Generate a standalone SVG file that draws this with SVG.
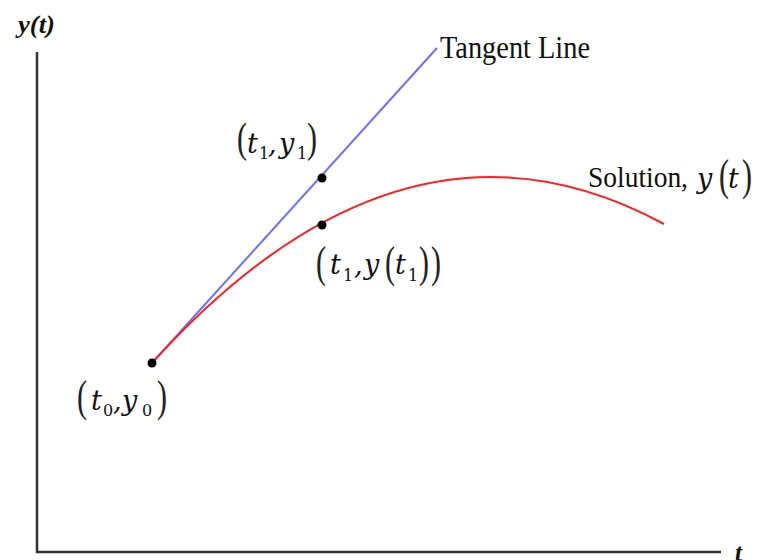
<svg xmlns="http://www.w3.org/2000/svg" width="767" height="560" viewBox="0 0 767 560">
<style>
.ax{stroke:#333;stroke-width:2.5;fill:none}
.lbl{font-family:"Liberation Serif","Times New Roman",serif;fill:#111}
.m{font-family:"DejaVu Serif","Liberation Serif",serif;font-style:italic;font-size:27px;fill:#111}
.s{font-family:"DejaVu Serif","Liberation Serif",serif;font-size:16px;fill:#111}
.p{font-family:"Liberation Serif","Times New Roman",serif;font-size:30px;fill:#222}
.bi{font-family:"Liberation Serif","Times New Roman",serif;font-style:italic;font-weight:bold;font-size:25px;fill:#111}
.dot{fill:#000}
</style>
<rect width="767" height="560" fill="#fff"/>
<g id="axes">
<path class="ax" d="M37,52 V552 H721"/>
<text class="bi" x="18" y="33" textLength="37" lengthAdjust="spacingAndGlyphs">y(t)</text>
<text class="bi" x="735" y="561">t</text>
</g>
<g id="connectors">
<line x1="152" y1="363" x2="437" y2="48" stroke="#7070ff" stroke-width="2"/>
<path d="M152,363 Q405,83.5 664,224" stroke="#ff2020" stroke-width="2" fill="none"/>
</g>
<g id="tangent-label">
<text class="lbl" x="440" y="58" font-size="31" textLength="150" lengthAdjust="spacingAndGlyphs">Tangent Line</text>
</g>
<g id="solution-label">
<text class="lbl" x="588" y="187" font-size="30" textLength="100" lengthAdjust="spacingAndGlyphs">Solution,</text>
<text class="m" x="697" y="188">y</text>
<text class="p" transform="translate(719,190) scale(1,1.5)">(</text>
<text class="m" x="728" y="188">t</text>
<text class="p" transform="translate(742,190) scale(1,1.5)">)</text>
</g>
<g id="p1">
<circle class="dot" cx="322" cy="178" r="4.5"/>
<text class="p" transform="translate(237,152) scale(1,1.4)">(</text>
<text class="m" x="247" y="153">t</text>
<text class="s" x="259" y="159">1</text>
<text class="m" x="268" y="153">,</text>
<text class="m" x="279" y="153">y</text>
<text class="s" x="297" y="159">1</text>
<text class="p" transform="translate(307,152) scale(1,1.4)">)</text>
</g>
<g id="p2">
<circle class="dot" cx="322" cy="225" r="4.5"/>
<text class="p" transform="translate(316,277) scale(1,1.5)">(</text>
<text class="m" x="330" y="274">t</text>
<text class="s" x="343" y="281">1</text>
<text class="m" x="354" y="274">,</text>
<text class="m" x="364" y="274">y</text>
<text class="p" transform="translate(385,277) scale(1,1.5)">(</text>
<text class="m" x="395" y="274">t</text>
<text class="s" x="408" y="281">1</text>
<text class="p" transform="translate(419,277) scale(1,1.5)">)</text>
<text class="p" transform="translate(431,277) scale(1,1.5)">)</text>
</g>
<g id="p0">
<circle class="dot" cx="152" cy="363" r="4.5"/>
<text class="p" transform="translate(77,411) scale(1,1.5)">(</text>
<text class="m" x="91" y="410">t</text>
<text class="s" x="103" y="416">0</text>
<text class="m" x="113" y="410">,</text>
<text class="m" x="122" y="410">y</text>
<text class="s" x="142" y="416">0</text>
<text class="p" transform="translate(157,411) scale(1,1.5)">)</text>
</g>
</svg>
